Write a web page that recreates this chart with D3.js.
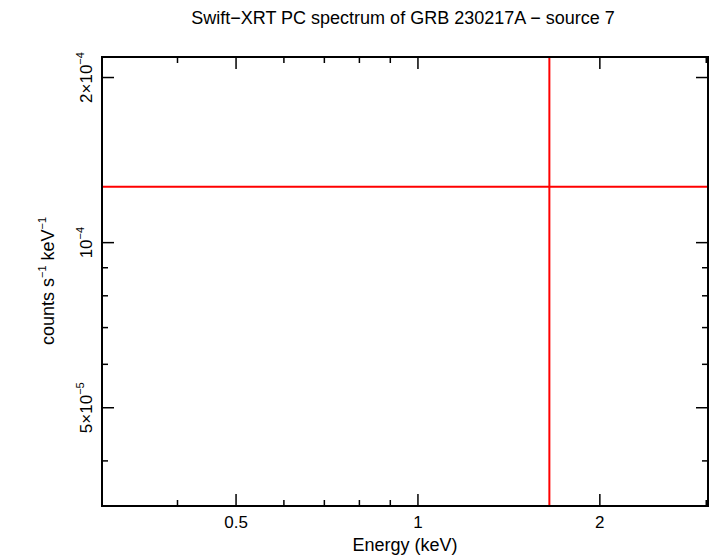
<!DOCTYPE html>
<html><head><meta charset="utf-8">
<script src="https://cdn.jsdelivr.net/npm/d3@7"></script>
<style>body{margin:0;background:#fff}text{font-family:"Liberation Sans",Arial,sans-serif}</style>
</head><body><svg id="c" width="710" height="556"></svg>
<script>
const title = "Swift\u2212XRT PC spectrum of GRB 230217A \u2212 source 7";
const xDomain = [0.3, 3.02];
const yDomain = [3.31e-5, 2.18e-4];
const xMajor = [0.5, 1, 2];
const xMajorLabels = ["0.5", "1", "2"];
const xMinor = [0.3,0.4,0.6,0.7,0.8,0.9,3];
const yMajor = [5e-5, 1e-4, 2e-4];
const yMinor = [4e-5,6e-5,7e-5,8e-5,9e-5];
const pointsX = [1.65];
const pointsY = [1.265e-4];
const xErrLo = [0.1]; const xErrHi = [10];
const yErrLo = [1e-6]; const yErrHi = [1e-2];

const svg = d3.select("#c");
const L=102,R=708,T=57,B=506;
const x = d3.scaleLog().domain(xDomain).range([L,R]);
const y = d3.scaleLog().domain(yDomain).range([B,T]);

svg.append("defs").append("clipPath").attr("id","cp").append("rect").attr("x",L).attr("y",T).attr("width",R-L).attr("height",B-T);
const g = svg.append("g").attr("clip-path","url(#cp)");
pointsX.forEach((px,i)=>{
  g.append("line").attr("x1",x(xErrLo[i])).attr("x2",x(xErrHi[i])).attr("y1",y(pointsY[i])).attr("y2",y(pointsY[i])).attr("stroke","red").attr("stroke-width",2);
  g.append("line").attr("x1",x(px)).attr("x2",x(px)).attr("y1",y(yErrLo[i])).attr("y2",y(yErrHi[i])).attr("stroke","red").attr("stroke-width",2);
});

const ax = svg.append("g").attr("stroke","#000").attr("stroke-width",1.5);
function tick(x1,y1,x2,y2){ax.append("line").attr("x1",x1).attr("y1",y1).attr("x2",x2).attr("y2",y2);}
xMajor.forEach(v=>{tick(x(v),B,x(v),B-12);tick(x(v),T,x(v),T+12);});
xMinor.forEach(v=>{tick(x(v),B,x(v),B-6);tick(x(v),T,x(v),T+6);});
yMajor.forEach(v=>{tick(L,y(v),L+12,y(v));tick(R,y(v),R-12,y(v));});
yMinor.forEach(v=>{tick(L,y(v),L+6,y(v));tick(R,y(v),R-6,y(v));});
svg.append("rect").attr("x",L).attr("y",T).attr("width",R-L).attr("height",B-T).attr("fill","none").attr("stroke","#000").attr("stroke-width",2);

xMajor.forEach((v,i)=>svg.append("text").attr("x",x(v)).attr("y",528).attr("text-anchor","middle").attr("font-size",17).text(xMajorLabels[i]));
const yLab = [["5\u00d710","\u22125"],["10","\u22124"],["2\u00d710","\u22124"]];
yMajor.forEach((v,i)=>{
  const t=svg.append("text").attr("transform",`translate(92,${y(v)}) rotate(-90)`).attr("text-anchor","middle").attr("font-size",17);
  t.append("tspan").text(yLab[i][0]);
  t.append("tspan").attr("font-size",11).attr("dy",-8).text(yLab[i][1]);
});
svg.append("text").attr("x",405).attr("y",551).attr("text-anchor","middle").attr("font-size",18).text("Energy (keV)");
const yl=svg.append("text").attr("transform","translate(54,281) rotate(-90)").attr("text-anchor","middle").attr("font-size",18);
yl.append("tspan").text("counts s");
yl.append("tspan").attr("font-size",11).attr("dy",-8).text("\u22121");
yl.append("tspan").attr("dy",8).text(" keV");
yl.append("tspan").attr("font-size",11).attr("dy",-8).text("\u22121");
svg.append("text").attr("x",403).attr("y",24).attr("text-anchor","middle").attr("font-size",18).text(title);
</script></body></html>
